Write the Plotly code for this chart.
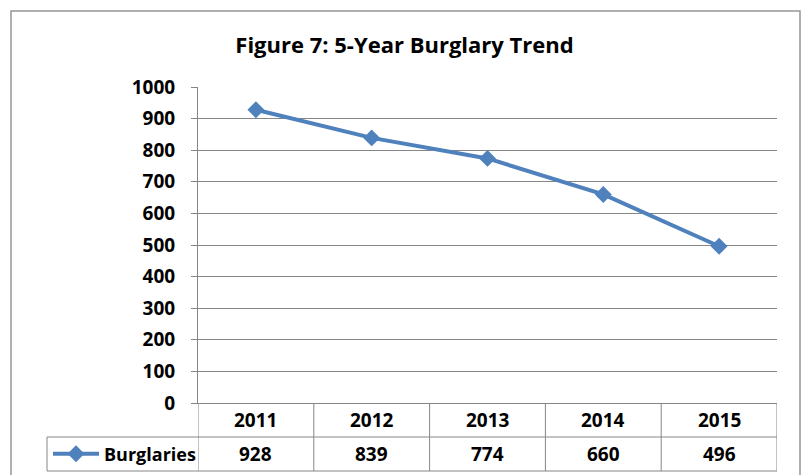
import plotly.graph_objects as go

# Burglary counts per year
years = ["2011", "2012", "2013", "2014", "2015"]
burglaries = [928, 839, 774, 660, 496]
series_name = "Burglaries"
y_ticks = [0, 100, 200, 300, 400, 500, 600, 700, 800, 900, 1000]
title_text = "Figure 7: 5-Year Burglary Trend"

W, H = 804, 475
L, R, T, B = 198, 777, 87, 403  # plot-area edges in pixels

BLUE = "#4F81BD"
GRID = "#868686"
FONT = "Open Sans"


def pxx(p):
    return (p - L) / (R - L)


def pxy(p):
    return (B - p) / (B - T)


fig = go.Figure()
fig.add_trace(go.Scatter(
    x=years, y=burglaries, name=series_name,
    mode="lines+markers",
    line=dict(color=BLUE, width=4),
    marker=dict(symbol="diamond", size=13, color=BLUE),
    showlegend=True,
))

shapes = []
row_mid_y = pxy(437)
row_bot_y = pxy(471)
line_style = dict(color=GRID, width=1)

# data-table grid below the plot
for i in range(len(years) + 1):
    shapes.append(dict(type="line", xref="x", yref="paper",
                       x0=i - 0.5, x1=i - 0.5, y0=0, y1=row_bot_y,
                       line=line_style))
for yy in (row_mid_y, row_bot_y):
    shapes.append(dict(type="line", xref="paper", yref="paper",
                       x0=pxx(47), x1=1, y0=yy, y1=yy, line=line_style))
shapes.append(dict(type="line", xref="paper", yref="paper",
                   x0=pxx(47), x1=pxx(47), y0=row_mid_y, y1=row_bot_y,
                   line=line_style))

# chart frame
shapes.append(dict(type="rect", xref="paper", yref="paper",
                   x0=pxx(11), x1=pxx(800), y0=pxy(11), y1=pxy(495),
                   line=dict(color="#969696", width=1.5), layer="below"))

annotations = []
hdr_y = pxy((403 + 437) / 2)
val_y = pxy((437 + 471) / 2)
cell_font = dict(family=FONT, size=19, color="black", weight="bold")
# category index positions on the x axis
for i, (yr, v) in enumerate(zip(years, burglaries)):
    annotations.append(dict(x=i, y=hdr_y, xref="x", yref="paper",
                            text=yr, showarrow=False, font=cell_font,
                            xanchor="center", yanchor="middle"))
    annotations.append(dict(x=i, y=val_y, xref="x", yref="paper",
                            text=str(v), showarrow=False, font=cell_font,
                            xanchor="center", yanchor="middle"))

fig.update_layout(
    width=W, height=H,
    margin=dict(l=L, r=W - R, t=T, b=H - B, autoexpand=False),
    paper_bgcolor="white", plot_bgcolor="white",
    title=dict(text=title_text, x=404.5 / W, xref="container", xanchor="center",
               y=1 - 45 / H, yref="container", yanchor="middle",
               font=dict(family=FONT, size=22, color="black", weight="bold")),
    xaxis=dict(type="category", range=[-0.5, len(years) - 0.5],
               showticklabels=False, showgrid=False, zeroline=False,
               showline=True, linecolor=GRID, linewidth=1, ticks=""),
    yaxis=dict(range=[0, 1000], tickvals=y_ticks,
               showgrid=True, gridcolor=GRID, gridwidth=1,
               zeroline=False, showline=True, linecolor=GRID, linewidth=1,
               ticks="outside", ticklen=6, tickcolor=GRID,
               ticklabelstandoff=12,
               tickfont=dict(family=FONT, size=19, color="black", weight="bold")),
    showlegend=True,
    legend=dict(x=pxx(48), xanchor="left", y=val_y, yanchor="middle",
                bgcolor="rgba(0,0,0,0)", borderwidth=0, itemwidth=46,
                font=dict(family=FONT, size=18, color="black", weight="bold"),
                itemclick=False, itemdoubleclick=False),
    shapes=shapes,
    annotations=annotations,
)

fig.write_html("out.html")
